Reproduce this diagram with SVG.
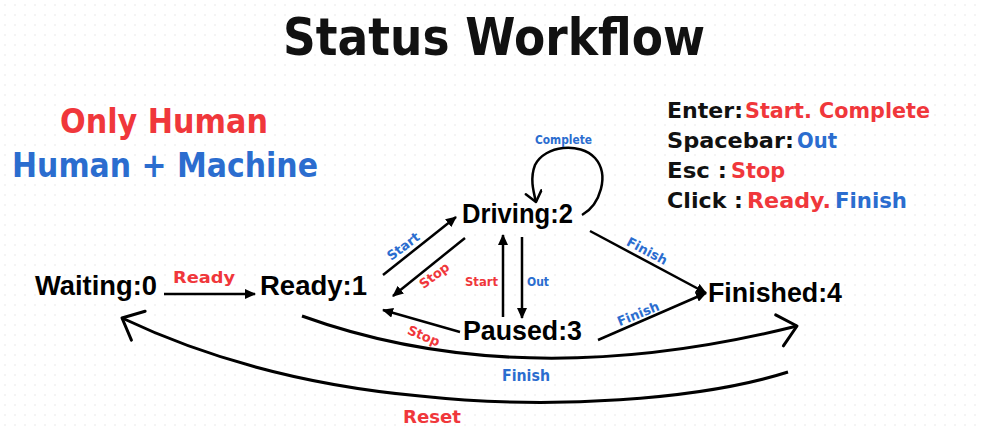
<svg xmlns="http://www.w3.org/2000/svg" width="984" height="433" viewBox="0 0 984 433">
<style>
text{font-family:"DejaVu Sans","Liberation Sans",sans-serif;font-weight:bold}
.k{fill:#111}
.r{fill:#f0373b}
.b{fill:#2b6dcf}
.node{font-family:"Liberation Sans","DejaVu Sans",sans-serif;font-size:27px;fill:#000}
.lbl{font-size:13px}
.ln{fill:none;stroke:#000;stroke-width:2.5}
.cv{fill:none;stroke:#000;stroke-width:3}
</style>
<defs>
<pattern id="dots" width="10" height="10" patternUnits="userSpaceOnUse">
<circle cx="5" cy="5" r="0.8" fill="#e6e6e6"/>
</pattern>
<marker id="fa" markerUnits="userSpaceOnUse" markerWidth="12" markerHeight="10" refX="10" refY="5" orient="auto">
<path d="M0,0 L11,5 L0,10 z" fill="#000"/>
</marker>
<marker id="ch" markerUnits="userSpaceOnUse" markerWidth="26" markerHeight="38" refX="21" refY="18" orient="auto">
<path d="M3,2 L21,18 L3,34" fill="none" stroke="#000" stroke-width="3" stroke-linecap="round" stroke-linejoin="round"/>
</marker>
<marker id="chs" markerUnits="userSpaceOnUse" markerWidth="16" markerHeight="20" refX="12" refY="9" orient="auto">
<path d="M2,1 L12,9 L2,17" fill="none" stroke="#000" stroke-width="2.5" stroke-linecap="round" stroke-linejoin="round"/>
</marker>
</defs>
<rect width="984" height="433" fill="#fff"/>
<rect width="984" height="433" fill="url(#dots)"/>

<g id="title">
<text x="283" y="55" font-size="51" class="k" textLength="422" lengthAdjust="spacingAndGlyphs">Status Workflow</text>
</g>

<g id="legend-left">
<text x="60" y="133" font-size="34" class="r" textLength="208" lengthAdjust="spacingAndGlyphs">Only Human</text>
<text x="12" y="177" font-size="33" class="b" textLength="306" lengthAdjust="spacingAndGlyphs">Human + Machine</text>
</g>

<g id="legend-right" font-size="21">
<text x="667" y="118" class="k" textLength="76" lengthAdjust="spacingAndGlyphs">Enter:</text>
<text x="745" y="118" class="r" textLength="185" lengthAdjust="spacingAndGlyphs">Start. Complete</text>
<text x="667" y="148" class="k" textLength="127" lengthAdjust="spacingAndGlyphs">Spacebar:</text>
<text x="797" y="148" class="b" textLength="40" lengthAdjust="spacingAndGlyphs">Out</text>
<text x="667" y="178" class="k" textLength="60" lengthAdjust="spacingAndGlyphs">Esc :</text>
<text x="731" y="178" class="r" textLength="54" lengthAdjust="spacingAndGlyphs">Stop</text>
<text x="667" y="208" class="k" textLength="76" lengthAdjust="spacingAndGlyphs">Click :</text>
<text x="747" y="208" class="r" textLength="84" lengthAdjust="spacingAndGlyphs">Ready.</text>
<text x="835" y="208" class="b" textLength="72" lengthAdjust="spacingAndGlyphs">Finish</text>
</g>

<g id="node-waiting"><text x="35" y="295" class="node" textLength="122" lengthAdjust="spacingAndGlyphs">Waiting:0</text></g>
<g id="node-ready"><text x="260" y="295" class="node" textLength="107" lengthAdjust="spacingAndGlyphs">Ready:1</text></g>
<g id="node-driving"><text x="462" y="223" class="node" textLength="111" lengthAdjust="spacingAndGlyphs">Driving:2</text></g>
<g id="node-paused"><text x="463" y="340" class="node" textLength="119" lengthAdjust="spacingAndGlyphs">Paused:3</text></g>
<g id="node-finished"><text x="708" y="302" class="node" textLength="134" lengthAdjust="spacingAndGlyphs">Finished:4</text></g>

<g id="connectors">
<line x1="164" y1="294" x2="255" y2="294" class="ln" marker-end="url(#fa)"/>
<text x="173" y="283" font-size="16" class="r" textLength="62" lengthAdjust="spacingAndGlyphs">Ready</text>

<line x1="383" y1="275" x2="456" y2="217" class="ln" marker-end="url(#fa)"/>
<text transform="translate(406,250) rotate(-37)" text-anchor="middle" class="lbl b">Start</text>

<line x1="465" y1="238" x2="393" y2="296" class="ln" marker-end="url(#fa)"/>
<text transform="translate(437,279) rotate(-37)" text-anchor="middle" class="lbl r">Stop</text>

<line x1="503" y1="317" x2="503" y2="235" class="ln" marker-end="url(#fa)"/>
<text x="465" y="286" class="lbl r" textLength="33" lengthAdjust="spacingAndGlyphs">Start</text>

<line x1="522" y1="237" x2="522" y2="318" class="ln" marker-end="url(#fa)"/>
<text x="527" y="286" class="lbl b" textLength="22" lengthAdjust="spacingAndGlyphs">Out</text>

<line x1="460" y1="332" x2="383" y2="310" class="ln" marker-end="url(#fa)"/>
<text transform="translate(422,340) rotate(23)" text-anchor="middle" class="lbl r">Stop</text>

<path d="M582,215 C600,205 610,175 595,158 C580,142 545,145 535,165 C530,178 533,190 536,202" class="ln" marker-end="url(#chs)"/>
<text x="535" y="144" font-size="12" class="b" textLength="57" lengthAdjust="spacingAndGlyphs">Complete</text>

<line x1="590" y1="231" x2="706" y2="293" class="ln" marker-end="url(#fa)"/>
<text transform="translate(645,255) rotate(28)" text-anchor="middle" class="lbl b">Finish</text>

<line x1="598" y1="340" x2="706" y2="293" class="ln" marker-end="url(#fa)"/>
<text transform="translate(640,318) rotate(-22)" text-anchor="middle" class="lbl b">Finish</text>

<path d="M302,316 Q520,395 797,326" class="cv" marker-end="url(#ch)"/>
<text x="502" y="381" font-size="15" class="b" textLength="48" lengthAdjust="spacingAndGlyphs">Finish</text>

<path d="M788,372 C700,400 550,410 420,396 C300,385 200,355 122,318" class="cv" marker-end="url(#ch)"/>
<text x="403" y="423" font-size="18" class="r" textLength="58" lengthAdjust="spacingAndGlyphs">Reset</text>
</g>
</svg>
